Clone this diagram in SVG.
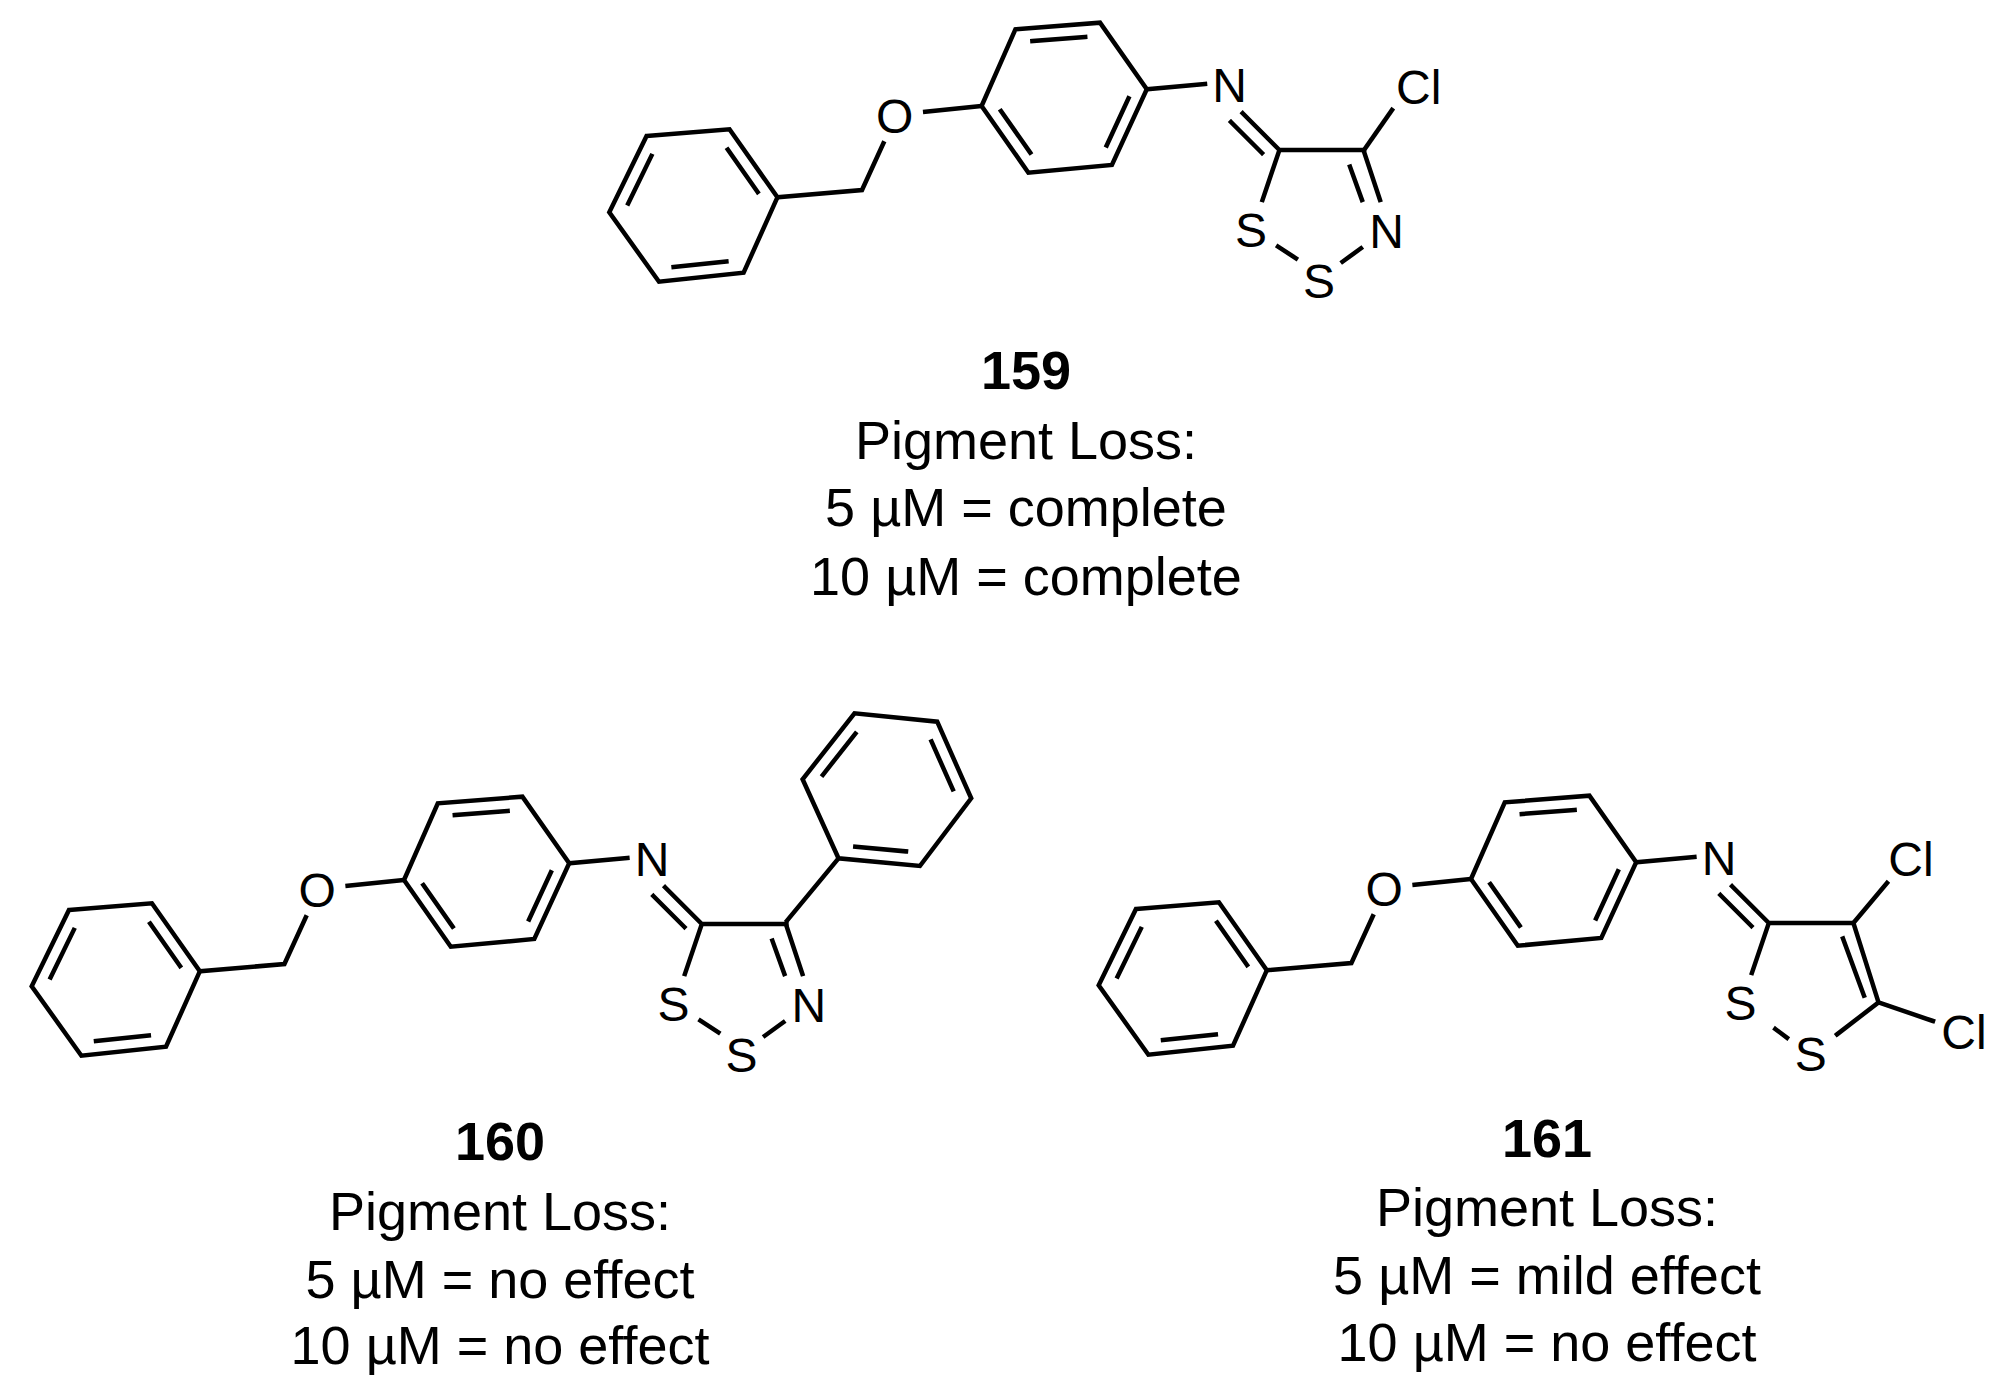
<svg xmlns="http://www.w3.org/2000/svg" xmlns:xlink="http://www.w3.org/1999/xlink" width="1999" height="1392" viewBox="0 0 1999 1392">
<style>
.b{stroke:#000;stroke-width:4.5;fill:none;stroke-linecap:square;stroke-linejoin:miter}
.a{font-family:"Liberation Sans",Arial,sans-serif;font-size:48px;fill:#000;text-anchor:middle;dominant-baseline:central}
.t{font-family:"Liberation Sans",Arial,sans-serif;font-size:54px;fill:#000;text-anchor:middle}
.n{font-weight:bold}
</style>
<defs>
<g id="core">
<polygon class="b" points="646.6,136 729.5,129.3 777.4,197.3 743.6,272.7 659,281.7 609.3,212.3"/>
<path class="b" d="M727.8,149.6L757.6,192M726.4,261.4L673.6,267M628.2,203.5L651.4,155.9"/>
<path class="b" d="M777.4,197.3L862,190L883.4,143.3M925.2,111.7L981.6,106"/>
<text class="a" x="894.7" y="116.7">O</text>
<polygon class="b" points="981.6,106 1015.4,29.3 1100,22.7 1146.8,89.3 1111.9,165 1028.4,172.7"/>
<path class="b" d="M1032.4,41L1085.2,36.9M1001,111.1L1030.2,152.6M1128.5,98.3L1106.7,145.4"/>
<path class="b" d="M1146.8,89.3L1205,84M1242.7,113.3L1279.4,150M1231,122L1262,153M1279.4,150L1364,150M1279.4,150L1262.5,200"/>
<text class="a" x="1229.7" y="85">N</text>
<text class="a" x="1251" y="230">S</text>
</g>
<g id="thiad">
<path class="b" d="M1278,246.7L1296,258.3M1342.5,261.7L1361,248.3M1364,151.7L1380,200M1350,166.7L1362,200"/>
<text class="a" x="1319" y="281.7">S</text>
<text class="a" x="1386.5" y="231.7">N</text>
</g>
</defs>
<g id="mol159">
<use xlink:href="#core"/>
<use xlink:href="#thiad"/>
<path class="b" d="M1364,150L1392,110"/>
<text class="a" x="1418.7" y="87">Cl</text>
</g>
<g id="mol160">
<use xlink:href="#core" transform="translate(-577.6,774)"/>
<use xlink:href="#thiad" transform="translate(-577.6,774)"/>
<path class="b" d="M787,920.7L838.5,858.3"/>
<polygon class="b" points="838.5,858.3 802.6,779.3 854.5,713.3 937.2,721.7 971.2,798.3 919.9,866"/>
<path class="b" d="M822.9,774.8L855.4,733.6M931.5,741.5L952.8,789.4M906,851.4L855.3,846.6"/>
</g>
<g id="mol161">
<use xlink:href="#core" transform="translate(489.4,773)"/>
<path class="b" d="M1853.4,923L1887,883M1853.4,923L1878.5,1002.4M1843,938.5L1864,995.7M1878.5,1002.4L1933,1021M1878.5,1002.4L1837,1034.4M1775.3,1029L1787,1037.8"/>
<text class="a" x="1911" y="859">Cl</text>
<text class="a" x="1964" y="1032.7">Cl</text>
<text class="a" x="1810.7" y="1054.6">S</text>
</g>
<g id="labels">
<text class="t n" x="1026" y="389">159</text>
<text class="t" x="1026" y="459">Pigment Loss:</text>
<text class="t" x="1026" y="526">5 µM = complete</text>
<text class="t" x="1026" y="595">10 µM = complete</text>
<text class="t n" x="500" y="1160">160</text>
<text class="t" x="500" y="1230">Pigment Loss:</text>
<text class="t" x="500" y="1298">5 µM = no effect</text>
<text class="t" x="500" y="1364">10 µM = no effect</text>
<text class="t n" x="1547" y="1157">161</text>
<text class="t" x="1547" y="1226">Pigment Loss:</text>
<text class="t" x="1547" y="1294">5 µM = mild effect</text>
<text class="t" x="1547" y="1361">10 µM = no effect</text>
</g>
<g id="connectors"/>
</svg>
